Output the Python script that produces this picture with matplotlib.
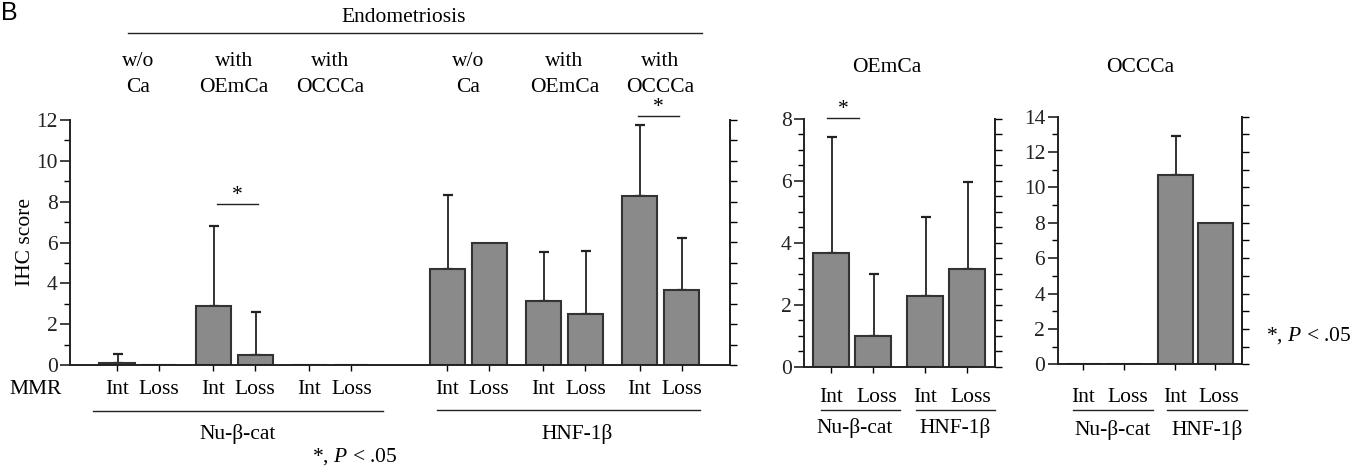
import matplotlib
matplotlib.use("Agg")
import matplotlib.pyplot as plt
import matplotlib.transforms as mtransforms
from matplotlib.lines import Line2D
from matplotlib.ticker import MultipleLocator
import numpy as np

plt.rcParams['font.family'] = ['Liberation Serif', 'DejaVu Serif']
plt.rcParams['mathtext.fontset'] = 'custom'
plt.rcParams['mathtext.rm'] = 'Liberation Serif'
plt.rcParams['mathtext.it'] = 'Liberation Serif:italic'

# ---- data (IHC score, mean and upper SD) ----
mmr = ['Int', 'Loss']
endo_groups = [('w/o', 'Ca'), ('with', 'OEmCa'), ('with', 'OCCCa')]
markers = ['Nu-β-cat', 'HNF-1β']

endo_nu_mean = [0.1, 0.0, 2.9, 0.47, 0.0, 0.0]
endo_nu_err = [0.45, 0.0, 3.9, 2.15, 0.0, 0.0]
endo_hnf_mean = [4.72, 6.0, 3.12, 2.51, 8.26, 3.66]
endo_hnf_err = [3.62, 0.0, 2.41, 3.07, 3.51, 2.54]

oem_mean = [3.66, 1.0, 2.28, 3.16]
oem_err = [3.75, 2.0, 2.57, 2.8]

occc_mean = [0.0, 0.0, 10.7, 8.0]
occc_err = [0.0, 0.0, 2.2, 0.0]

W, H = 1354, 469
BAR = '#8a8a8a'
EDGE = '#333333'
FS = 15.5

fig = plt.figure(figsize=(W / 100, H / 100), dpi=100)


def fx(x):
    return x / W


def fy(y):
    return 1 - y / H


def hline(x0, x1, y, lw=1.0):
    fig.add_artist(Line2D([fx(x0), fx(x1)], [fy(y), fy(y)], transform=fig.transFigure,
                          color='#222222', lw=lw))


def draw_bars(ax, pos, mean, err, width):
    ax.bar(pos, mean, width=width, color=BAR, edgecolor=EDGE, linewidth=1.5, zorder=2)
    pos = np.asarray(pos)
    mean = np.asarray(mean)
    err = np.asarray(err)
    m = err > 0
    ax.errorbar(pos[m] + 0.02, mean[m], yerr=[np.zeros(m.sum()), err[m]], fmt='none',
                ecolor='#222222', elinewidth=1.3, capsize=3.5, capthick=1.6, zorder=1)


def style(ax, ymax, major, minor, right_minor):
    ax.set_ylim(0, ymax)
    ax.yaxis.set_major_locator(MultipleLocator(major))
    ax.yaxis.set_minor_locator(MultipleLocator(minor))
    ax.spines['top'].set_visible(False)
    for s in ['left', 'bottom', 'right']:
        ax.spines[s].set_linewidth(1.4)
        ax.spines[s].set_color('#222222')
    ax.tick_params(axis='y', which='major', direction='out', length=7, width=1.2,
                   labelsize=FS, pad=2, colors='#222222')
    ax.tick_params(axis='y', which='minor', direction='out', length=4, width=1.0)
    ax.tick_params(axis='x', direction='out', length=4, width=1.0, labelbottom=False)
    # right axis: unlabelled ticks
    axr = ax.twinx()
    axr.set_ylim(0, ymax)
    axr.yaxis.set_major_locator(MultipleLocator(right_minor))
    axr.tick_params(axis='y', direction='out', length=5, width=1.0, labelright=False)
    for s in ['top', 'left', 'bottom']:
        axr.spines[s].set_visible(False)
    axr.spines['right'].set_linewidth(1.4)
    axr.spines['right'].set_color('#222222')


# ---- panel 1: endometriosis ----
ax1 = fig.add_axes([fx(70), fy(365), (730 - 70) / W, (365 - 120) / H])
pos1 = []
for b in range(2):
    for g in range(3):
        for k in range(2):
            pos1.append(1.12 + k + g * 2.29 + b * 7.86)
pos1 = np.array(pos1)
draw_bars(ax1, pos1[:6], endo_nu_mean, endo_nu_err, 0.84)
draw_bars(ax1, pos1[6:], endo_hnf_mean, endo_hnf_err, 0.84)
ax1.set_xlim(0, 660 / 42)
ax1.set_xticks(pos1)
style(ax1, 12, 2, 1, 1)
ax1.set_ylabel('IHC score', fontsize=FS)
ax1.yaxis.set_label_coords((35 - 70) / 660, 0.5)

t1 = mtransforms.blended_transform_factory(ax1.transData, fig.transFigure)
for i, p in enumerate(pos1):
    ax1.text(p, fy(390), mmr[i % 2], transform=t1, ha='center', va='center', fontsize=FS)
for b in range(2):
    for g in range(3):
        c = pos1[b * 6 + g * 2] + 0.5
        ax1.text(c, fy(62), endo_groups[g][0], transform=t1, ha='center', va='center', fontsize=FS)
        ax1.text(c, fy(87), endo_groups[g][1], transform=t1, ha='center', va='center', fontsize=FS)
fig.text(fx(36), fy(390), 'MMR', ha='center', va='center', fontsize=FS)
fig.text(fx(404), fy(17), 'Endometriosis', ha='center', va='center', fontsize=FS)
hline(128, 702, 33)
hline(93, 383, 410.5)
hline(437, 700, 409.5)
fig.text(fx(238), fy(434), markers[0], ha='center', va='center', fontsize=FS)
fig.text(fx(577), fy(434), markers[1], ha='center', va='center', fontsize=FS)
fig.text(fx(398), fy(457), '*, $P$ < .05', ha='right', va='center', fontsize=FS)

# significance marks
for (x0, x1, y) in [(pos1[2] + 0.08, pos1[3] + 0.06, 7.9), (pos1[10] - 0.04, pos1[11] - 0.06, 12.2)]:
    ax1.plot([x0, x1], [y, y], color='#222222', lw=1.0, clip_on=False)
    ax1.text((x0 + x1) / 2, y - 0.05, '*', ha='center', va='bottom', fontsize=FS, clip_on=False)

# ---- panel 2: OEmCa ----
ax2 = fig.add_axes([fx(804), fy(366.7), (995 - 804) / W, (366.7 - 119) / H])
pos2 = np.array([0.64, 1.64, 2.88, 3.88])
draw_bars(ax2, pos2, oem_mean, oem_err, 0.87)
ax2.set_xlim(0, 191 / 42)
ax2.set_xticks(pos2)
style(ax2, 8, 2, 0.5, 0.5)
t2 = mtransforms.blended_transform_factory(ax2.transData, fig.transFigure)
for i, p in enumerate(pos2):
    ax2.text(p + (0.1 if i % 2 else 0), fy(397), mmr[i % 2], transform=t2, ha='center', va='center', fontsize=FS)
hline(821, 900, 410)
hline(916, 995, 410)
fig.text(fx(855), fy(428), markers[0], ha='center', va='center', fontsize=FS)
fig.text(fx(955), fy(428), markers[1], ha='center', va='center', fontsize=FS)
fig.text(fx(887), fy(67), 'OEmCa', ha='center', va='center', fontsize=FS)
x0, x1, y = 0.55, 1.31, 8.04
ax2.plot([x0, x1], [y, y], color='#222222', lw=1.0, clip_on=False)
ax2.text((x0 + x1) / 2, y - 0.04, '*', ha='center', va='bottom', fontsize=FS, clip_on=False)

# ---- panel 3: OCCCa ----
ax3 = fig.add_axes([fx(1057.7), fy(364.3), (1242 - 1057.7) / W, (364.3 - 116.7) / H])
pos3 = np.array([0.63, 1.64, 2.9, 3.89])
draw_bars(ax3, pos3, occc_mean, occc_err, 0.86)
ax3.set_xlim(0, 184.3 / 40.5)
ax3.set_xticks(pos3)
style(ax3, 14, 2, 1, 1)
t3 = mtransforms.blended_transform_factory(ax3.transData, fig.transFigure)
for i, p in enumerate(pos3):
    ax3.text(p + (0.1 if i % 2 else 0), fy(397), mmr[i % 2], transform=t3, ha='center', va='center', fontsize=FS)
hline(1073, 1153, 410)
hline(1167, 1247, 410)
fig.text(fx(1113), fy(430), markers[0], ha='center', va='center', fontsize=FS)
fig.text(fx(1207), fy(430), markers[1], ha='center', va='center', fontsize=FS)
fig.text(fx(1140), fy(67), 'OCCCa', ha='center', va='center', fontsize=FS)
fig.text(fx(1352), fy(336), '*, $P$ < .05', ha='right', va='center', fontsize=FS)

# panel letter
fig.text(fx(1), fy(1), 'B', ha='left', va='top', fontsize=18, family='Liberation Sans')

fig.savefig('out.png', dpi=100)
